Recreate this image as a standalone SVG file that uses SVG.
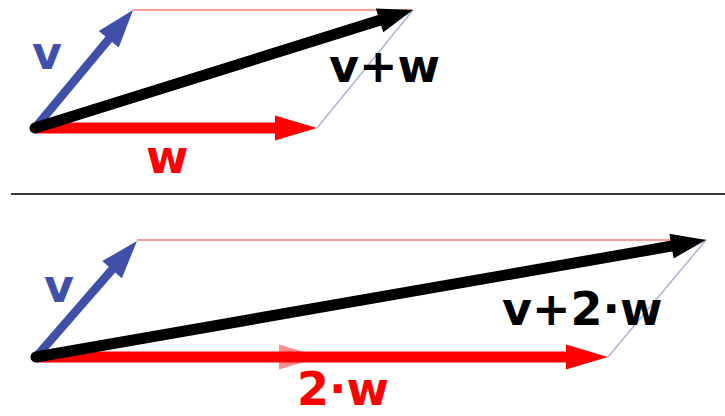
<svg xmlns="http://www.w3.org/2000/svg" width="725" height="416" viewBox="0 0 725 416">
  <style>
    .lbl { font-family: "DejaVu Sans", "Liberation Sans", sans-serif; font-weight: bold; font-size: 46px; }
    .blue { fill: #4050a8; }
    .red { fill: #ff0000; }
    .blk { fill: #000000; }
    .guide-p { stroke: #ff9a9a; stroke-width: 2; fill: none; }
    .guide-b { stroke: #aab3dc; stroke-width: 1.5; fill: none; }
    .v { stroke: #4050a8; stroke-width: 8.5; fill: none; }
    .w { stroke: #ff0000; stroke-width: 11; fill: none; }
    .s { stroke: #000000; stroke-width: 11; fill: none; stroke-linecap: round; }
  </style>
  <defs>
    <marker id="hv" markerUnits="userSpaceOnUse" markerWidth="40" markerHeight="28" viewBox="0 -14 40 28" refX="1" refY="0" orient="auto" overflow="visible">
      <path d="M38,0 L0,-13 L0,13 Z" fill="#4050a8"/>
    </marker>
    <marker id="hw" markerUnits="userSpaceOnUse" markerWidth="44" markerHeight="28" viewBox="0 -14 44 28" refX="1" refY="0" orient="auto" overflow="visible">
      <path d="M42,0 L0,-12.5 L0,12.5 Z" fill="#ff0000"/>
    </marker>
    <marker id="hs" markerUnits="userSpaceOnUse" markerWidth="38" markerHeight="28" viewBox="0 -14 38 28" refX="1" refY="0" orient="auto" overflow="visible">
      <path d="M35,0 L0,-12.5 L0,12.5 Z" fill="#000000"/>
    </marker>
  </defs>

  <g id="top">
    <g id="top-guides">
      <line class="guide-p" x1="133" y1="10" x2="413" y2="10"/>
      <line class="guide-b" x1="317" y1="128" x2="413" y2="10"/>
    </g>
    <g id="top-connectors">
      <line id="top-w" class="w" x1="35" y1="128" x2="276" y2="128" marker-end="url(#hw)"/>
      <line id="top-v" class="v" x1="35" y1="128" x2="109.4" y2="38.5" marker-end="url(#hv)"/>
      <line id="top-sum" class="s" x1="35" y1="128" x2="380.5" y2="20.1" marker-end="url(#hs)"/>
    </g>
    <g id="top-labels">
      <text class="lbl blue" x="32" y="69">v</text>
      <text class="lbl blk" x="329" y="82">v+w</text>
      <text class="lbl red" x="146" y="173">w</text>
    </g>
  </g>

  <line id="separator" x1="11" y1="194" x2="725" y2="194" stroke="#3a3a3a" stroke-width="2"/>

  <g id="bottom">
    <g id="bottom-guides">
      <line class="guide-p" x1="137" y1="240" x2="706" y2="240"/>
      <line class="guide-b" x1="608" y1="357" x2="706" y2="240"/>
    </g>
    <g id="bottom-connectors">
      <polygon id="ghost-head" points="321,357 279,344.5 279,369.5" fill="#ff0000" fill-opacity="0.45"/>
      <line id="bottom-2w" class="w" x1="36" y1="357" x2="567" y2="357" marker-end="url(#hw)"/>
      <line id="bottom-v" class="v" x1="36" y1="357" x2="112.7" y2="268.9" marker-end="url(#hv)"/>
      <line id="bottom-sum" class="s" x1="36" y1="357" x2="672.5" y2="245.9" marker-end="url(#hs)"/>
    </g>
    <g id="bottom-labels">
      <text class="lbl blue" x="44" y="302">v</text>
      <text class="lbl blk" x="502" y="325">v+2·w</text>
      <text class="lbl red" x="297" y="405">2·w</text>
    </g>
  </g>
</svg>
